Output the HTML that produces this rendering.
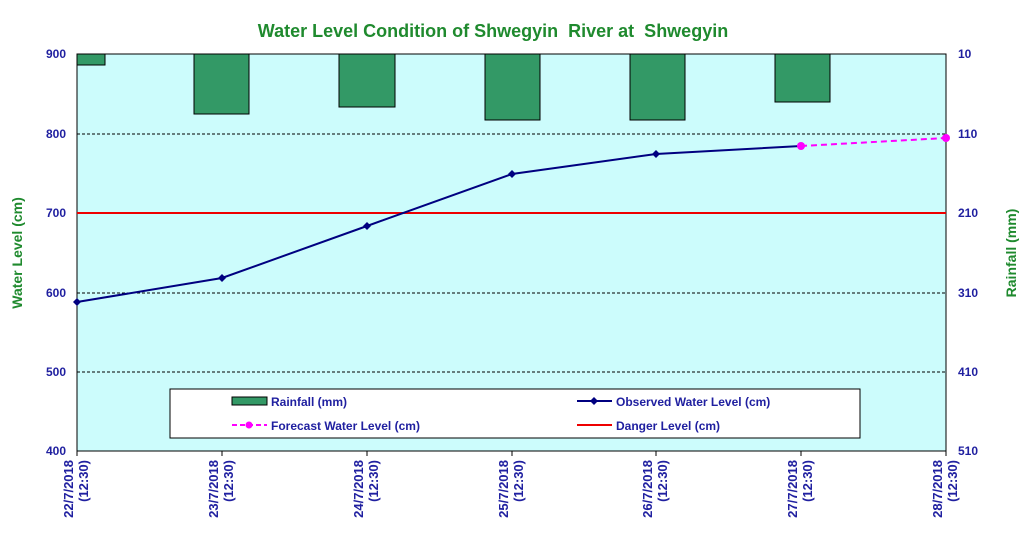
<!DOCTYPE html>
<html><head><meta charset="utf-8"><style>
body{margin:0;background:#fff;width:1023px;height:541px;overflow:hidden}
svg text{font-family:"Liberation Sans",Arial,sans-serif;font-weight:bold}
</style></head><body>
<svg width="1023" height="541" xmlns="http://www.w3.org/2000/svg">
<text x="493" y="37" text-anchor="middle" font-size="18" fill="#1f8a2e">Water Level Condition of Shwegyin &#160;River at &#160;Shwegyin</text>
<rect x="77" y="54" width="869" height="397" fill="#ccfcfc" stroke="#000" stroke-width="1"/>
<g stroke="#000" stroke-dasharray="3,2" stroke-width="1">
<line x1="77" y1="134" x2="946" y2="134"/><line x1="77" y1="293" x2="946" y2="293"/><line x1="77" y1="372" x2="946" y2="372"/>
</g>
<g fill="#339966" stroke="#000" stroke-width="1">
<rect x="77" y="54" width="28" height="11"/>
<rect x="194" y="54" width="55" height="60"/>
<rect x="339" y="54" width="56" height="53"/>
<rect x="485" y="54" width="55" height="66"/>
<rect x="630" y="54" width="55" height="66"/>
<rect x="775" y="54" width="55" height="48"/>
</g>
<line x1="77" y1="213" x2="946" y2="213" stroke="#e00" stroke-width="2"/>
<polyline points="77,302 222,278 367,226 512,174 656,154 801,146" fill="none" stroke="#000080" stroke-width="2"/>
<g fill="#000080">
<path d="M77,298 l4,4 -4,4 -4,-4z"/><path d="M222,274 l4,4 -4,4 -4,-4z"/><path d="M367,222 l4,4 -4,4 -4,-4z"/><path d="M512,170 l4,4 -4,4 -4,-4z"/><path d="M656,150 l4,4 -4,4 -4,-4z"/>
</g>
<line x1="801" y1="146" x2="946" y2="138" stroke="#ff00ff" stroke-width="2" stroke-dasharray="6,4"/>
<circle cx="801" cy="146" r="4" fill="#ff00ff"/><circle cx="946" cy="138" r="4" fill="#ff00ff"/>
<g font-size="12" fill="#2020a0" text-anchor="end">
<text x="66" y="58">900</text><text x="66" y="138">800</text><text x="66" y="217">700</text><text x="66" y="297">600</text><text x="66" y="376">500</text><text x="66" y="455">400</text>
</g>
<g font-size="12" fill="#2020a0">
<text x="958" y="58">10</text><text x="958" y="138">110</text><text x="958" y="217">210</text><text x="958" y="297">310</text><text x="958" y="376">410</text><text x="958" y="455">510</text>
</g>
<text transform="translate(22,253) rotate(-90)" text-anchor="middle" font-size="14" fill="#1f8a2e">Water Level (cm)</text>
<text transform="translate(1016,253) rotate(-90)" text-anchor="middle" font-size="14" fill="#1f8a2e">Rainfall (mm)</text>
<g stroke="#000"><line x1="77" y1="451" x2="77" y2="456"/><line x1="222" y1="451" x2="222" y2="456"/><line x1="367" y1="451" x2="367" y2="456"/><line x1="512" y1="451" x2="512" y2="456"/><line x1="656" y1="451" x2="656" y2="456"/><line x1="801" y1="451" x2="801" y2="456"/><line x1="946" y1="451" x2="946" y2="456"/></g>
<g font-size="13" fill="#2020a0" text-anchor="end">
<text transform="translate(73,460) rotate(-90)">22/7/2018</text><text transform="translate(88,460) rotate(-90)">(12:30)</text>
<text transform="translate(218,460) rotate(-90)">23/7/2018</text><text transform="translate(233,460) rotate(-90)">(12:30)</text>
<text transform="translate(363,460) rotate(-90)">24/7/2018</text><text transform="translate(378,460) rotate(-90)">(12:30)</text>
<text transform="translate(508,460) rotate(-90)">25/7/2018</text><text transform="translate(523,460) rotate(-90)">(12:30)</text>
<text transform="translate(652,460) rotate(-90)">26/7/2018</text><text transform="translate(667,460) rotate(-90)">(12:30)</text>
<text transform="translate(797,460) rotate(-90)">27/7/2018</text><text transform="translate(812,460) rotate(-90)">(12:30)</text>
<text transform="translate(942,460) rotate(-90)">28/7/2018</text><text transform="translate(957,460) rotate(-90)">(12:30)</text>
</g>
<rect x="170" y="389" width="690" height="49" fill="#fff" stroke="#000"/>
<rect x="232" y="397" width="35" height="8" fill="#339966" stroke="#000"/>
<text x="271" y="406" font-size="12" fill="#2020a0">Rainfall (mm)</text>
<line x1="232" y1="425" x2="267" y2="425" stroke="#ff00ff" stroke-width="2" stroke-dasharray="5,3"/><circle cx="249" cy="425" r="3.5" fill="#ff00ff"/>
<text x="271" y="430" font-size="12" fill="#2020a0">Forecast Water Level (cm)</text>
<line x1="577" y1="401" x2="612" y2="401" stroke="#000080" stroke-width="2"/><path d="M594,397 l4,4 -4,4 -4,-4z" fill="#000080"/>
<text x="616" y="406" font-size="12" fill="#2020a0">Observed Water Level (cm)</text>
<line x1="577" y1="425" x2="612" y2="425" stroke="#e00" stroke-width="2"/>
<text x="616" y="430" font-size="12" fill="#2020a0">Danger Level (cm)</text>
</svg>
</body></html>
